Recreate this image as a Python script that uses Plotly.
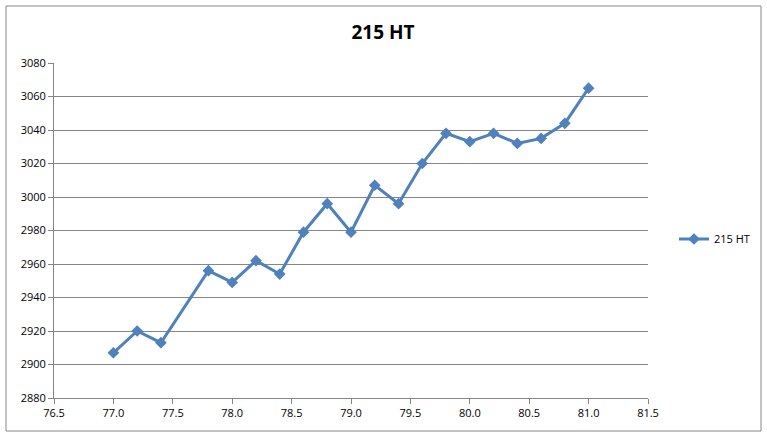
import plotly.graph_objects as go

x_vals = [77.0, 77.2, 77.4, 77.8, 78.0, 78.2, 78.4, 78.6, 78.8, 79.0,
          79.2, 79.4, 79.6, 79.8, 80.0, 80.2, 80.4, 80.6, 80.8, 81.0]
y_vals = [2907, 2920, 2913, 2956, 2949, 2962, 2954, 2979, 2996, 2979,
          3007, 2996, 3020, 3038, 3033, 3038, 3032, 3035, 3044, 3065]
series_name = "215 HT"
title_text = "215 HT"

x_ticks = [76.5, 77.0, 77.5, 78.0, 78.5, 79.0, 79.5, 80.0, 80.5, 81.0, 81.5]
y_ticks = list(range(2880, 3081, 20))

W, H = 767, 437
L, R, T, B = 54, 119, 63, 39
pw, ph = W - L - R, H - T - B

def px_x(p):
    return (p - L) / pw

def px_y(p):
    return (H - B - p) / ph

fig = go.Figure()
fig.add_trace(go.Scatter(
    x=x_vals, y=y_vals, name=series_name, mode="lines+markers",
    line=dict(color="#4F81BD", width=3),
    marker=dict(symbol="diamond", size=9, color="#4F81BD"),
))

axis_col = "#868686"
fig.update_layout(
    width=W, height=H,
    margin=dict(l=L, r=R, t=T, b=B),
    paper_bgcolor="white", plot_bgcolor="white",
    font=dict(family="Open Sans, Liberation Sans, sans-serif", size=11, color="black"),
    title=dict(text="<b>" + title_text + "</b>", x=(383) / W, xanchor="center",
               y=1 - 32 / H, yanchor="middle",
               font=dict(size=19, color="black")),
    showlegend=True,
    legend=dict(x=px_x(674), xanchor="left", y=px_y(239), yanchor="middle",
                font=dict(size=11), bgcolor="rgba(0,0,0,0)"),
    xaxis=dict(range=[76.5, 81.5], tickvals=x_ticks,
               ticktext=[f"{v:.1f}" for v in x_ticks],
               showgrid=False, zeroline=False,
               showline=True, linecolor=axis_col, linewidth=1,
               ticks="outside", ticklen=5, tickcolor=axis_col),
    yaxis=dict(range=[2880, 3080], tickvals=y_ticks,
               showgrid=True, gridcolor=axis_col, gridwidth=1,
               zeroline=False,
               showline=True, linecolor=axis_col, linewidth=1,
               ticks="outside", ticklen=5, tickcolor=axis_col),
    shapes=[dict(type="rect", xref="paper", yref="paper",
                 x0=px_x(6), x1=px_x(761), y0=px_y(431), y1=px_y(6),
                 line=dict(color="#868686", width=1), fillcolor="rgba(0,0,0,0)",
                 layer="below")],
)

fig.write_html("out.html", config={"displayModeBar": False},
               post_script="document.body.style.margin='0';")
